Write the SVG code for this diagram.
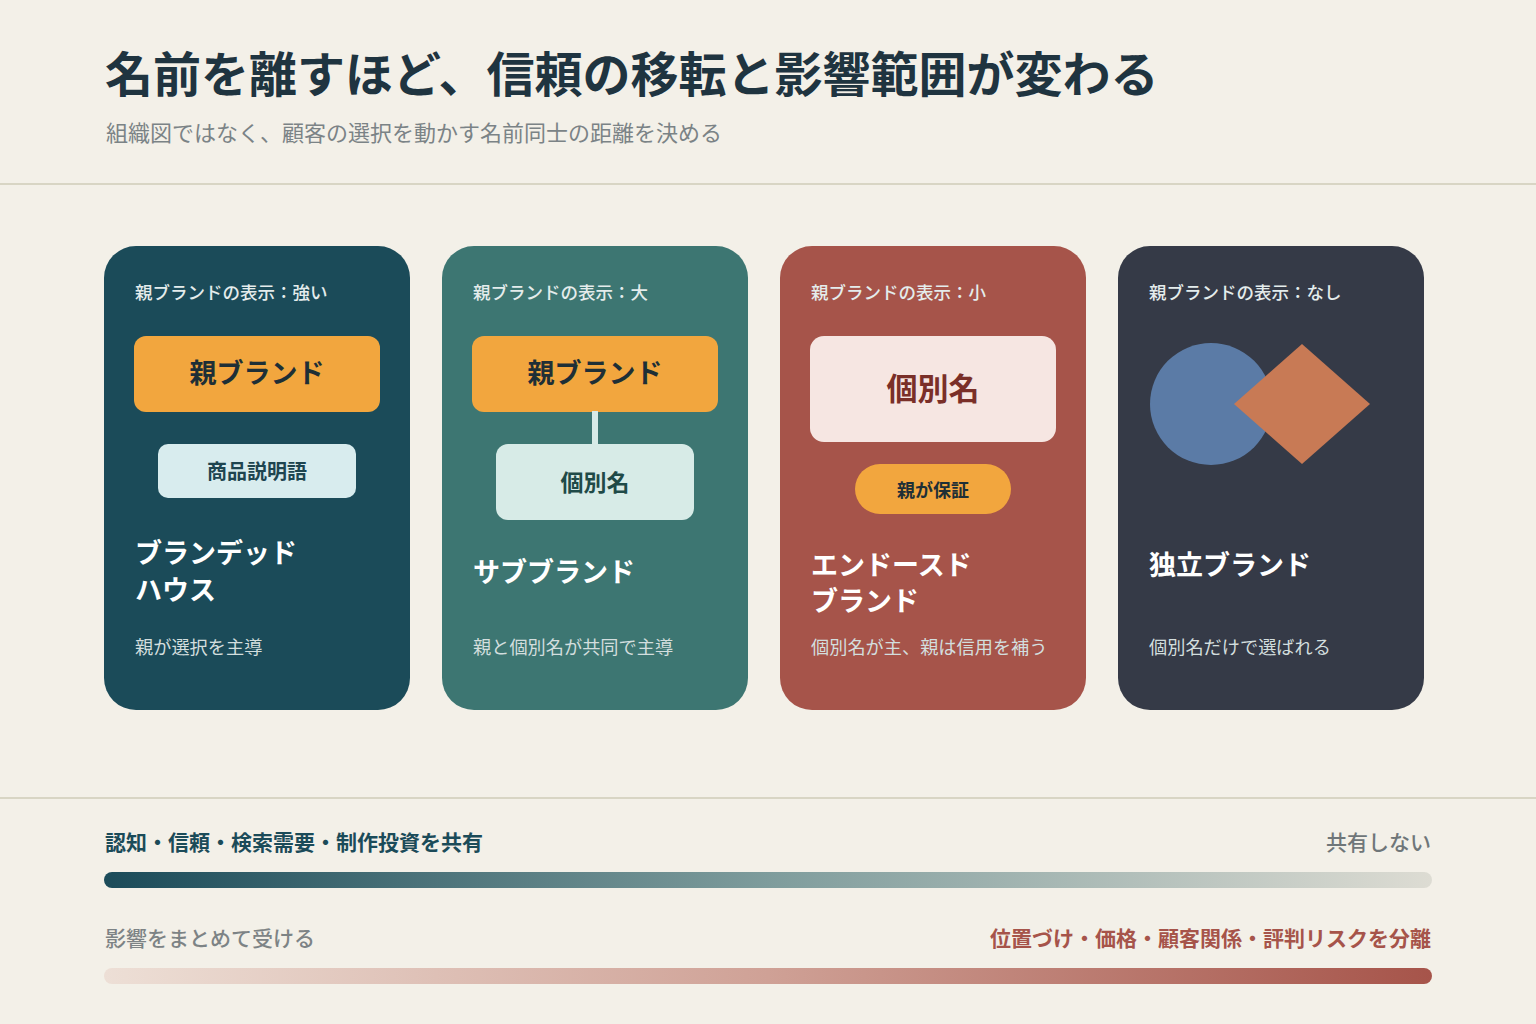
<svg xmlns="http://www.w3.org/2000/svg" width="1536" height="1024" viewBox="0 0 1536 1024">
<defs>
<style>
text{font-family:"Noto Sans CJK JP","Noto Sans",sans-serif;}
.title{font-size:48px;font-weight:700;fill:#1f3440;}
.sub{font-size:22px;font-weight:400;fill:#7b8386;}
.lbl{font-size:17.5px;font-weight:500;fill:#e4ecec;}
.ct{font-size:27px;font-weight:700;fill:#ffffff;}
.desc{font-size:18.2px;font-weight:400;fill:#d3dede;}
.pb{font-size:27px;font-weight:700;fill:#1e2f36;text-anchor:middle;}
.sep{stroke:#d8d5c4;stroke-width:2;}
.bot{font-size:21px;}
</style>
<linearGradient id="g1" x1="0" y1="0" x2="1" y2="0">
<stop offset="0" stop-color="#1b4b59"/>
<stop offset="0.5" stop-color="#7e9c9c"/>
<stop offset="1" stop-color="#dddcd3"/>
</linearGradient>
<linearGradient id="g2" x1="0" y1="0" x2="1" y2="0">
<stop offset="0" stop-color="#eddfd6"/>
<stop offset="0.5" stop-color="#cfa196"/>
<stop offset="1" stop-color="#a6544a"/>
</linearGradient>
</defs>
<rect x="0" y="0" width="1536" height="1024" fill="#f3f0e8"/>
<g id="header">
<text class="title" x="105" y="92">名前を離すほど、信頼の移転と影響範囲が変わる</text>
<text class="sub" x="106" y="141">組織図ではなく、顧客の選択を動かす名前同士の距離を決める</text>
<line class="sep" x1="0" y1="184" x2="1536" y2="184"/>
</g>
<g id="card-branded-house">
<rect x="104" y="246" width="306" height="464" rx="32" fill="#1b4b59"/>
<text class="lbl" x="135" y="299">親ブランドの表示：強い</text>
<rect x="134" y="336" width="246" height="76" rx="12" fill="#f2a63e"/>
<text class="pb" x="257" y="383">親ブランド</text>
<rect x="158" y="444" width="198" height="54" rx="10" fill="#d8ecee"/>
<text x="257" y="479" font-size="20" font-weight="700" fill="#1e4550" text-anchor="middle">商品説明語</text>
<text class="ct" x="135" y="563">ブランデッド</text>
<text class="ct" x="135" y="600">ハウス</text>
<text class="desc" x="135" y="654">親が選択を主導</text>
</g>
<g id="card-sub-brand">
<rect x="442" y="246" width="306" height="464" rx="32" fill="#3d7672"/>
<text class="lbl" x="473" y="299">親ブランドの表示：大</text>
<rect x="472" y="336" width="246" height="76" rx="12" fill="#f2a63e"/>
<text class="pb" x="595" y="383">親ブランド</text>
<rect x="496" y="444" width="198" height="76" rx="12" fill="#d7ebe7"/>
<text x="595" y="491" font-size="23" font-weight="700" fill="#1f4a48" text-anchor="middle">個別名</text>
<text class="ct" x="473" y="582">サブブランド</text>
<text class="desc" x="473" y="654">親と個別名が共同で主導</text>
</g>
<g id="card-endorsed">
<rect x="780" y="246" width="306" height="464" rx="32" fill="#a6544a"/>
<text class="lbl" x="811" y="299">親ブランドの表示：小</text>
<rect x="810" y="336" width="246" height="106" rx="14" fill="#f6e6e2"/>
<text x="933" y="400" font-size="31" font-weight="700" fill="#7a2f28" text-anchor="middle">個別名</text>
<rect x="855" y="464" width="156" height="50" rx="25" fill="#f2a63e"/>
<text x="933" y="497" font-size="18" font-weight="700" fill="#1e2f36" text-anchor="middle">親が保証</text>
<text class="ct" x="811" y="575">エンドースド</text>
<text class="ct" x="811" y="611">ブランド</text>
<text class="desc" x="811" y="654">個別名が主、親は信用を補う</text>
</g>
<g id="card-independent">
<rect x="1118" y="246" width="306" height="464" rx="32" fill="#353a47"/>
<text class="lbl" x="1149" y="299">親ブランドの表示：なし</text>
<circle cx="1211" cy="404" r="61" fill="#5b7ba6"/>
<polygon points="1302,344 1370,404 1302,464 1234,404" fill="#c87a55"/>
<text class="ct" x="1149" y="575">独立ブランド</text>
<text class="desc" x="1149" y="654">個別名だけで選ばれる</text>
</g>
<g id="connectors">
<rect x="592" y="411" width="6" height="34" fill="#d7ebe7"/>
</g>
<g id="scales">
<line class="sep" x1="0" y1="798" x2="1536" y2="798"/>
<text class="bot" x="105" y="850" font-weight="700" fill="#1b4b59">認知・信頼・検索需要・制作投資を共有</text>
<text class="bot" x="1431" y="850" font-weight="500" fill="#6f7679" text-anchor="end">共有しない</text>
<rect x="104" y="872" width="1328" height="16" rx="8" fill="url(#g1)"/>
<text class="bot" x="105" y="946" font-weight="500" fill="#7d8385">影響をまとめて受ける</text>
<text class="bot" x="1431" y="946" font-weight="700" fill="#a6544a" text-anchor="end">位置づけ・価格・顧客関係・評判リスクを分離</text>
<rect x="104" y="968" width="1328" height="16" rx="8" fill="url(#g2)"/>
</g>
</svg>
